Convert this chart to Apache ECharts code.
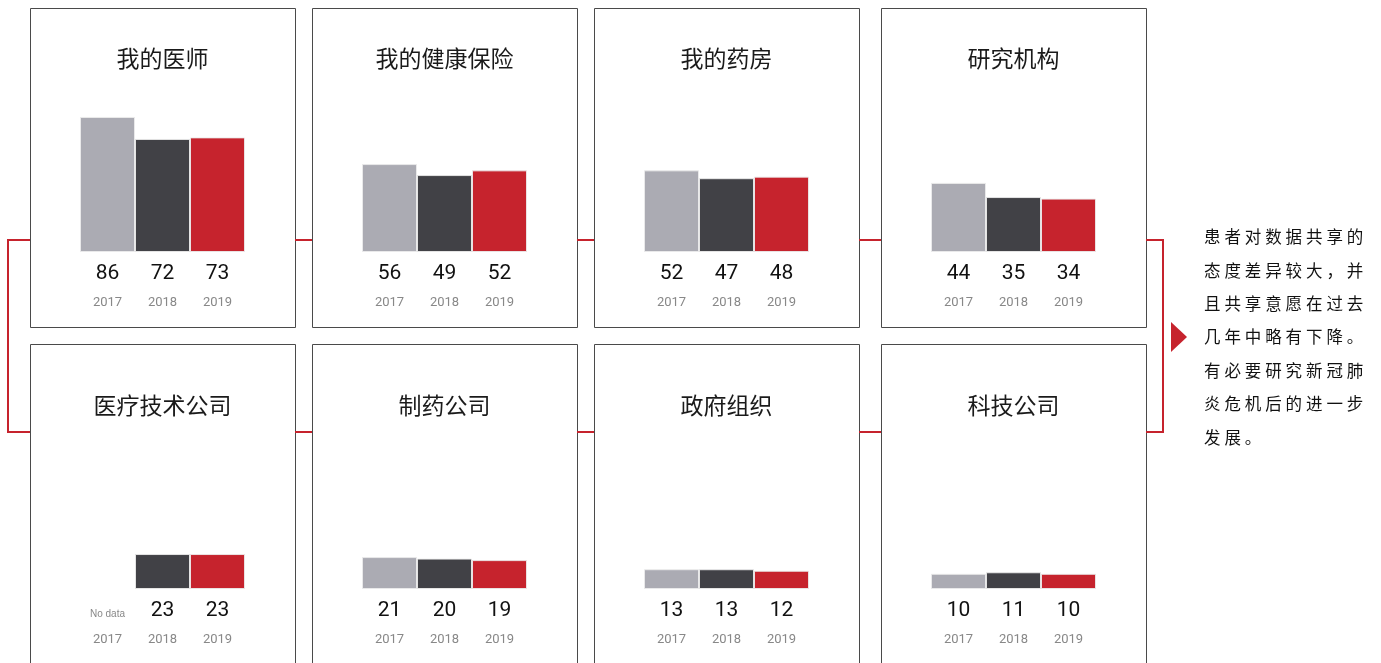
<!DOCTYPE html>
<html>
<head>
<meta charset="utf-8">
<script src="https://cdn.jsdelivr.net/npm/echarts@6/dist/echarts.min.js"></script>
<style>html,body{margin:0;padding:0;background:#fff}#c{width:1381px;height:663px}</style>
</head>
<body>
<div id="c"></div>
<script>
const categories = ['我的医师','我的健康保险','我的药房','研究机构','医疗技术公司','制药公司','政府组织','科技公司'];
const years = ['2017','2018','2019'];
const v2017 = [86,56,52,44,null,21,13,10];
const v2018 = [72,49,47,35,23,20,13,11];
const v2019 = [73,52,48,34,23,19,12,10];
const noDataText = 'No data';
const noteLines = ['患者对数据共享的','态度差异较大，并','且共享意愿在过去','几年中略有下降。','有必要研究新冠肺','炎危机后的进一步','发展。'];

const RED = '#C6232D', GRAY = '#ABABB3', DARK = '#414146';
const barColors = [GRAY, DARK, RED];
const boxLefts = [30, 312, 594, 881];
const boxW = 265;
const rows = [
  {boxTop: 8, boxH: 319, titleY: 58, gridTop: 95, gridH: 157, link: 240},
  {boxTop: 344, boxH: 340, titleY: 405, gridTop: 437, gridH: 152, link: 432}
];

const chart = echarts.init(document.getElementById('c'));
const grids = [], xAxes = [], yAxes = [], series = [], graphics = [];

categories.forEach((name, i) => {
  const r = rows[Math.floor(i / 4)];
  const bl = boxLefts[i % 4];
  const vals = [v2017[i], v2018[i], v2019[i]];
  graphics.push({type:'rect', z:0, shape:{x:bl+0.5, y:r.boxTop+0.5, width:boxW, height:r.boxH},
    style:{fill:'#fff', stroke:'#4a4a4a', lineWidth:1}});
  graphics.push({type:'text', z:5, style:{text:name, x:bl+boxW/2, y:r.titleY, align:'center', verticalAlign:'middle',
    fontSize:23, fontFamily:'"Noto Sans CJK SC", sans-serif', fill:'#1a1a1a'}});
  grids.push({left: bl+50, top: r.gridTop, width: 165, height: r.gridH});
  xAxes.push({type:'category', gridIndex:i, data:years, axisLine:{show:false}, axisTick:{show:false},
    axisLabel:{interval:0, margin:7,
      formatter:(val, idx) => (vals[idx] == null ? '{n|' + noDataText + '}' : '{v|' + vals[idx] + '}') + '\n{y|' + val + '}',
      rich:{
        v:{fontSize:21, fontFamily:'Roboto, sans-serif', color:'#111', lineHeight:30},
        n:{fontSize:10, fontFamily:'"Liberation Sans Narrow", sans-serif', color:'#888', lineHeight:30, padding:[6,0,0,0]},
        y:{fontSize:13, fontFamily:'Roboto, sans-serif', color:'#888', lineHeight:28}
      }}});
  yAxes.push({type:'value', gridIndex:i, min:0, max:100, show:false, splitLine:{show:false}});
  series.push({type:'bar', xAxisIndex:i, yAxisIndex:i, barCategoryGap:'0%', animation:false,
    data: vals.map((v, k) => ({value: v == null ? '-' : v, itemStyle:{color: barColors[k]}})),
    itemStyle:{borderColor:'rgba(235,235,235,0.9)', borderWidth:1}});
});

// connectors
rows.forEach(r => {
  for (let k = 0; k < 3; k++) {
    graphics.push({type:'line', z:1, shape:{x1:boxLefts[k]+boxW, y1:r.link, x2:boxLefts[k+1], y2:r.link},
      style:{stroke:RED, lineWidth:2}});
  }
});
graphics.push({type:'polyline', z:1, shape:{points:[[30,rows[0].link],[8,rows[0].link],[8,rows[1].link],[30,rows[1].link]]},
  style:{stroke:RED, lineWidth:2, fill:null}});
graphics.push({type:'polyline', z:1, shape:{points:[[1146,rows[0].link],[1163,rows[0].link],[1163,rows[1].link],[1146,rows[1].link]]},
  style:{stroke:RED, lineWidth:2, fill:null}});
graphics.push({type:'polygon', z:1, shape:{points:[[1171,322],[1187,337],[1171,352]]}, style:{fill:RED}});

noteLines.forEach((line, li) => {
  Array.from(line).forEach((ch, ci) => {
    graphics.push({type:'text', z:5, style:{text:ch, x:1204 + ci*20.4, y:237 + li*33.4, align:'left', verticalAlign:'middle',
      fontSize:16.5, fontFamily:'"Noto Sans CJK SC", sans-serif', fill:'#111'}});
  });
});

chart.setOption({
  animation:false,
  grid: grids, xAxis: xAxes, yAxis: yAxes, series: series,
  graphic: graphics
});
</script>
</body>
</html>
